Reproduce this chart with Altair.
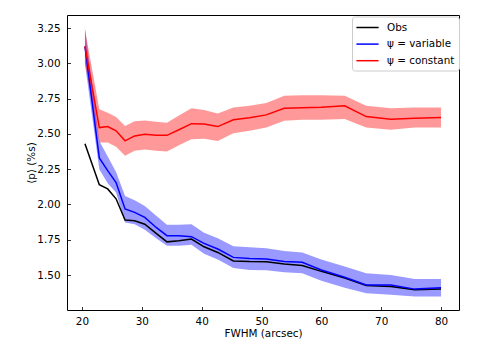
import altair as alt
import pandas as pd

fwhm = [20.5, 22.9, 24.3, 25.7, 27.2, 28.8, 30.5, 32.4, 34.2, 36.2, 38.3, 40.4,
        42.7, 45.3, 48.0, 50.8, 53.8, 56.8, 60.0, 63.9, 67.5, 71.6, 75.6, 80.0]
obs = [2.43, 2.14, 2.11, 2.04, 1.89, 1.885, 1.86, 1.795, 1.735, 1.743, 1.755, 1.70,
       1.66, 1.60, 1.595, 1.594, 1.578, 1.568, 1.526, 1.479, 1.425, 1.418, 1.396, 1.40]
var_mid = [3.12, 2.33, 2.24, 2.155, 1.968, 1.944, 1.908, 1.837, 1.779, 1.779, 1.772, 1.724,
           1.684, 1.625, 1.617, 1.614, 1.595, 1.59, 1.536, 1.484, 1.43, 1.43, 1.40, 1.41]
var_hi = [3.25, 2.45, 2.34, 2.23, 2.06, 2.03, 1.99, 1.92, 1.857, 1.857, 1.86, 1.80,
          1.76, 1.703, 1.696, 1.69, 1.67, 1.66, 1.61, 1.56, 1.512, 1.50, 1.472, 1.472]
var_lo = [3.0, 2.25, 2.15, 2.085, 1.873, 1.86, 1.82, 1.76, 1.708, 1.708, 1.715, 1.65,
          1.61, 1.55, 1.536, 1.534, 1.52, 1.512, 1.46, 1.41, 1.37, 1.36, 1.347, 1.347]
const_mid = [3.12, 2.545, 2.552, 2.522, 2.451, 2.486, 2.498, 2.49, 2.49, 2.53, 2.573, 2.57,
             2.552, 2.60, 2.614, 2.635, 2.682, 2.686, 2.69, 2.699, 2.623, 2.604, 2.612, 2.616]
const_hi = [3.24, 2.675, 2.65, 2.62, 2.557, 2.59, 2.595, 2.587, 2.58, 2.63, 2.682, 2.67,
            2.644, 2.687, 2.70, 2.72, 2.77, 2.775, 2.775, 2.77, 2.699, 2.682, 2.687, 2.687]
const_lo = [3.0, 2.44, 2.44, 2.41, 2.345, 2.38, 2.39, 2.38, 2.375, 2.42, 2.463, 2.465,
            2.45, 2.505, 2.522, 2.545, 2.593, 2.60, 2.60, 2.605, 2.545, 2.53, 2.545, 2.545]

series_names = ["Obs", "ψ = variable", "ψ = constant"]
series_colors = ["#000000", "#0000ff", "#ff0000"]
y_ticks = [1.25, 1.5, 1.75, 2.0, 2.25, 2.5, 2.75, 3.0, 3.25]
x_ticks = [20, 30, 40, 50, 60, 70, 80]

rows = []
for name, mid, lo, hi in [
    (series_names[0], obs, obs, obs),
    (series_names[1], var_mid, var_lo, var_hi),
    (series_names[2], const_mid, const_lo, const_hi),
]:
    for i, xv in enumerate(fwhm):
        rows.append({"series": name, "order": series_names.index(name), "fwhm": xv,
                     "p": mid[i], "lo": lo[i], "hi": hi[i]})
df = pd.DataFrame(rows)

font = "DejaVu Sans"
fs = 10.4
xscale = alt.Scale(domain=[17.5, 83], nice=False, zero=False)
yscale = alt.Scale(domain=[1.252, 3.343], nice=False, zero=False)

xaxis = alt.Axis(title="FWHM (arcsec)", values=x_ticks, format="d", grid=False,
                 domain=False, offset=-3.5, tickSize=3.5, tickColor="black", tickWidth=0.8,
                 labelPadding=6.5, labelFont=font, labelFontSize=fs, labelColor="black",
                 titleFont=font, titleFontSize=fs, titleFontWeight="normal",
                 titleColor="black", titlePadding=2)
yaxis = alt.Axis(title="⟨p⟩ (%s)", values=y_ticks, format=".2f", grid=False,
                 domain=False, offset=-3.5, tickSize=3.5, tickColor="black", tickWidth=0.8,
                 labelPadding=7, labelFont=font, labelFontSize=fs, labelColor="black",
                 titleFont=font, titleFontSize=fs, titleFontWeight="normal",
                 titleColor="black", titlePadding=0)

base = alt.Chart(df)

band_var = base.transform_filter(alt.datum.series == series_names[1]).mark_area(
    color="#0000ff", opacity=0.4).encode(
    x=alt.X("fwhm:Q", scale=xscale, axis=xaxis),
    y=alt.Y("lo:Q", scale=yscale, axis=yaxis),
    y2="hi:Q")
band_const = base.transform_filter(alt.datum.series == series_names[2]).mark_area(
    color="#ff0000", opacity=0.4).encode(
    x=alt.X("fwhm:Q", scale=xscale),
    y=alt.Y("lo:Q", scale=yscale),
    y2="hi:Q")

lines = base.mark_line(strokeWidth=1.5).encode(
    x=alt.X("fwhm:Q", scale=xscale),
    y=alt.Y("p:Q", scale=yscale),
    color=alt.Color("series:N",
                    scale=alt.Scale(domain=series_names, range=series_colors),
                    sort=series_names,
                    legend=alt.Legend(title=None, orient="none", legendX=285, legendY=1.5,
                                      symbolType="M-1.1,0H2.6", symbolSize=144,
                                      symbolStrokeWidth=1.5, labelFont=font,
                                      labelFontSize=fs, labelColor="black",
                                      labelOffset=17, rowPadding=3.6, padding=4,
                                      fillColor="white", strokeColor="#cccccc",
                                      cornerRadius=3)),
    detail="series:N",
    order="order:Q")

chart = alt.layer(band_var, band_const, lines).properties(
    width=392, height=295,
    autosize=alt.AutoSizeParams(type="none"),
    padding={"left": 59, "top": 7, "right": 12, "bottom": 42},
    background="white",
).configure_view(stroke="black", strokeWidth=1)

chart.save("out.html", embed_options={"renderer": "svg", "actions": False})
